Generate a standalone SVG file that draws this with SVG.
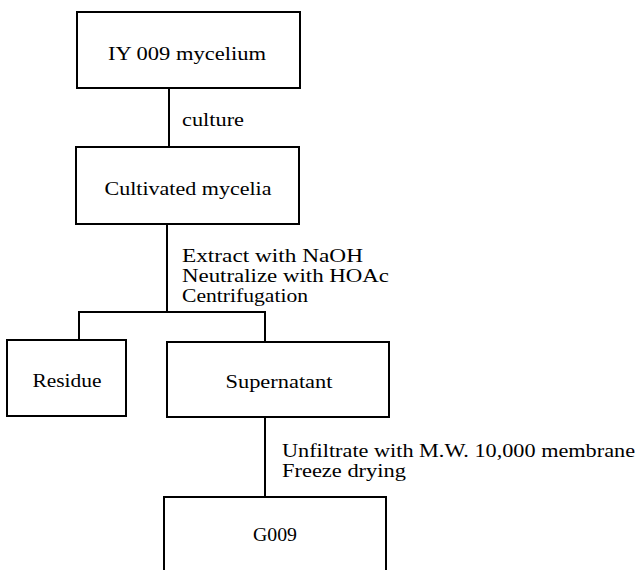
<svg xmlns="http://www.w3.org/2000/svg" width="639" height="570" viewBox="0 0 639 570">
<style>
.box{fill:#fff;stroke:#000;stroke-width:2}
.ln{fill:none;stroke:#000;stroke-width:2}
text{font-family:"Liberation Serif","Times New Roman",serif;font-size:18px;fill:#000}
.c{text-anchor:middle}
</style>
<rect width="639" height="570" fill="#fff"/>
<g id="connectors">
<line class="ln" x1="169" y1="88" x2="169" y2="147"/>
<line class="ln" x1="167" y1="224" x2="167" y2="312"/>
<polyline class="ln" points="79,340 79,312 265,312 265,342"/>
<line class="ln" x1="265" y1="417" x2="265" y2="497"/>
<text x="182" y="126" textLength="62" lengthAdjust="spacingAndGlyphs">culture</text>
<text x="182" y="262" textLength="181" lengthAdjust="spacingAndGlyphs">Extract with NaOH</text>
<text x="182" y="282" textLength="207" lengthAdjust="spacingAndGlyphs">Neutralize with HOAc</text>
<text x="182" y="302" textLength="126" lengthAdjust="spacingAndGlyphs">Centrifugation</text>
<text x="282" y="457" textLength="353" lengthAdjust="spacingAndGlyphs">Unfiltrate with M.W. 10,000 membrane</text>
<text x="282" y="477" textLength="124" lengthAdjust="spacingAndGlyphs">Freeze drying</text>
</g>
<g id="n1"><rect class="box" x="77" y="12" width="223" height="76"/><text class="c" x="187" y="60" textLength="158" lengthAdjust="spacingAndGlyphs">IY 009 mycelium</text></g>
<g id="n2"><rect class="box" x="76" y="147" width="223" height="77"/><text class="c" x="188" y="195" textLength="167" lengthAdjust="spacingAndGlyphs">Cultivated mycelia</text></g>
<g id="n3"><rect class="box" x="7" y="340" width="119" height="76"/><text class="c" x="67" y="387" textLength="69" lengthAdjust="spacingAndGlyphs">Residue</text></g>
<g id="n4"><rect class="box" x="167" y="342" width="222" height="75"/><text class="c" x="279" y="388" textLength="107" lengthAdjust="spacingAndGlyphs">Supernatant</text></g>
<g id="n5"><rect class="box" x="164" y="497" width="222" height="90"/><text class="c" x="275" y="541" textLength="44" lengthAdjust="spacingAndGlyphs">G009</text></g>
</svg>
